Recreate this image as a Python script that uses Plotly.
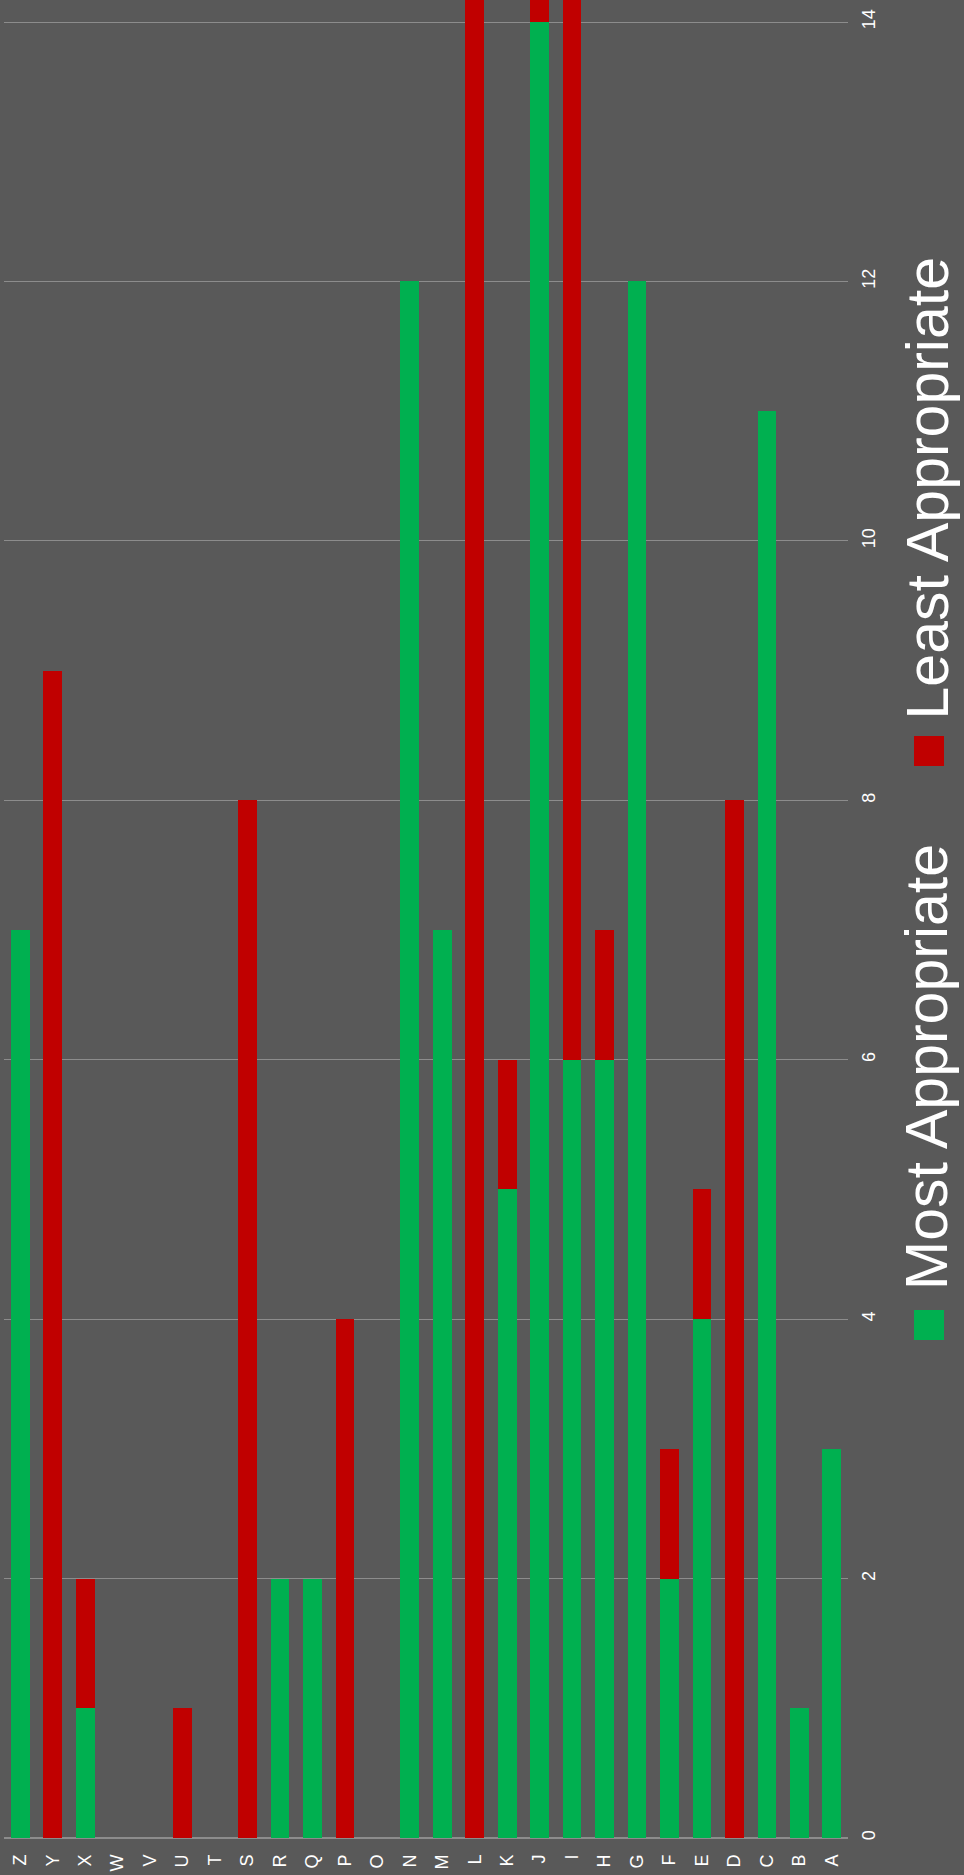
import plotly.graph_objects as go

categories = ["Z", "Y", "X", "W", "V", "U", "T", "S", "R", "Q", "P", "O", "N",
              "M", "L", "K", "J", "I", "H", "G", "F", "E", "D", "C", "B", "A"]
most_appropriate = [7, 0, 1, 0, 0, 0, 0, 0, 2, 2, 0, 0, 12,
                    7, 0, 5, 14, 6, 6, 12, 2, 4, 0, 11, 1, 3]
least_appropriate = [0, 9, 1, 0, 0, 1, 0, 8, 0, 0, 4, 0, 0,
                     0, 15, 1, 1, 9, 1, 0, 1, 1, 8, 0, 0, 0]
value_ticks = [0, 2, 4, 6, 8, 10, 12, 14]

GREEN = "#00B050"
RED = "#C00000"
BG = "#595959"
FONT = "Liberation Sans, Arial, sans-serif"

W, H = 964, 1875
ML, MR, MT, MB = 4, 116, 0, 37
PW = W - ML - MR
PH = H - MT - MB

fig = go.Figure()
fig.add_trace(go.Bar(x=categories, y=most_appropriate, name="Most Appropriate",
                     marker=dict(color=GREEN, line=dict(width=0))))
fig.add_trace(go.Bar(x=categories, y=least_appropriate, name="Least Appropriate",
                     marker=dict(color=RED, line=dict(width=0))))

def px_x(p):
    return (p - ML) / PW

def px_y(p):
    return (MT + PH - p) / PH

legend_items = [("Most Appropriate", GREEN, 1310, 1292),
                ("Least Appropriate", RED, 736, 722)]
annotations = []
shapes = []
for label, color, sq_top, txt_bottom in legend_items:
    shapes.append(dict(type="rect", xref="paper", yref="paper",
                       x0=px_x(914), x1=px_x(944), y0=px_y(sq_top + 30), y1=px_y(sq_top),
                       fillcolor=color, line=dict(width=0)))
    annotations.append(dict(text=label, xref="paper", yref="paper",
                            x=px_x(927), y=px_y(txt_bottom), xanchor="center", yanchor="bottom",
                            textangle=-90, showarrow=False,
                            font=dict(family=FONT, size=59, color="white")))

fig.update_layout(
    width=W, height=H,
    margin=dict(l=ML, r=MR, t=MT, b=MB, pad=0, autoexpand=False),
    paper_bgcolor=BG, plot_bgcolor=BG,
    barmode="stack", bargap=0.424,
    showlegend=False,
    font=dict(family=FONT, color="white", size=18),
    annotations=annotations, shapes=shapes,
    xaxis=dict(categoryorder="array", categoryarray=categories, tickangle=-90,
               showgrid=False, zeroline=False, showline=False, ticks="",
               automargin=False,
               ticklabelstandoff=12, tickfont=dict(size=18, color="white")),
    yaxis=dict(side="right", range=[0, 14.17], tickvals=value_ticks, tickangle=-90,
               showgrid=True, gridcolor="#8c8c8c", gridwidth=1,
               zeroline=True, zerolinecolor="#8c8c8c", zerolinewidth=2,
               showline=False, ticks="", ticklabelstandoff=8, automargin=False,
               tickfont=dict(size=18, color="white")),
)

fig.write_html("out.html",
               config={"displayModeBar": False},
               post_script="document.body.style.margin='0px';document.body.style.background='#595959';")
